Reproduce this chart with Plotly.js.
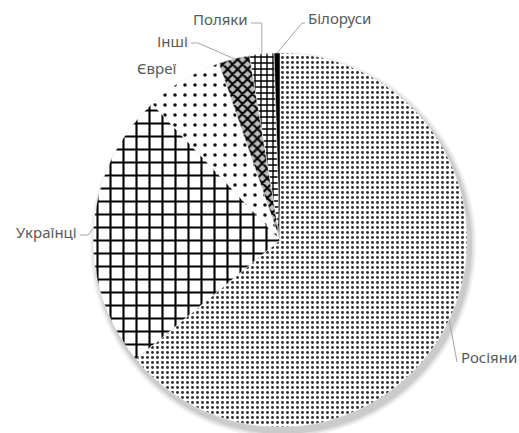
<!DOCTYPE html>
<html>
<head>
<meta charset="utf-8">
<script src="https://cdn.plot.ly/plotly-3.0.1.min.js"></script>
<style>html,body{margin:0;padding:0;background:#fff;}#chart{width:519px;height:433px;}</style>
</head>
<body>
<div id="chart"></div>
<script>
// ---- data ----
const categories = ["Росіяни", "Українці", "Євреї", "Інші", "Поляки", "Білоруси"];
const shares = [64.0, 24.0, 6.7, 2.7, 2.1, 0.5];

// ---- styling ----
const patternShapes = [".", "+", ".", "x", "+", ""];
const patternSizes = [5, 13, 10, 7, 6, 6];
const patternSolidity = [0.28, 0.3, 0.1, 0.5, 0.4, 0.3];
const patternFg = ["#333333", "#000000", "#111111", "#000000", "#000000", "#000000"];
const patternBg = ["#ffffff", "#ffffff", "#ffffff", "#bdbdbd", "#ffffff", "#000000"];
const sliceColors = ["#ffffff", "#ffffff", "#ffffff", "#bdbdbd", "#ffffff", "#000000"];

const W = 519, H = 433;
const cx = 280, cy = 240, R = 187;
const px = x => x / W;
const py = y => 1 - y / H;

// label placement (layout): text anchor, and leader elbow points (px)
const labelPos = {
  "Росіяни": {x: 459, y: 357, anchor: "left", line: [[457, 362]]},
  "Українці": {x: 79, y: 232, anchor: "right", line: [[80, 235], [88, 235]]},
  "Євреї": {x: 156, y: 68, anchor: "center", line: null},
  "Інші": {x: 190, y: 41, anchor: "right", line: [[191, 43], [198, 43]]},
  "Поляки": {x: 250, y: 19, anchor: "right", line: [[251, 23], "edgex"]},
  "Білоруси": {x: 306, y: 18, anchor: "left", line: [[305, 23], [302, 23]]}
};

const total = shares.reduce((a, b) => a + b, 0);
let cum = 0;
const annotations = [];
const shapes = [];

// soft shadow
[[6, 0.05], [4, 0.07], [2, 0.09]].forEach(([g, op]) => {
  shapes.push({
    type: "circle", xref: "paper", yref: "paper", layer: "below",
    x0: px(cx - R - g + 3), x1: px(cx + R + g + 3),
    y0: py(cy + R + g + 5), y1: py(cy - R - g + 5),
    fillcolor: "rgba(0,0,0," + op + ")", line: {width: 0}
  });
});

categories.forEach((c, i) => {
  const a0 = cum / total * 360;
  cum += shares[i];
  const a1 = cum / total * 360;
  const am = (a0 + a1) / 2 * Math.PI / 180;
  const ex = cx + R * Math.sin(am);
  const ey = cy - R * Math.cos(am);
  const lp = labelPos[c];
  annotations.push({
    text: c, xref: "paper", yref: "paper", x: px(lp.x), y: py(lp.y),
    xanchor: lp.anchor, yanchor: "middle", showarrow: false,
    font: {family: "Noto Sans, sans-serif", size: 15, color: "#595959"}
  });
  if (lp.line) {
    const pts = lp.line.map(p => p === "edgex" ? [ex, lp.line[0][1]] : p);
    pts.push([ex, ey]);
    let d = "M" + pts.map(p => px(p[0]) + "," + py(p[1])).join(" L");
    shapes.push({
      type: "path", xref: "paper", yref: "paper", path: d,
      line: {color: "#a6a6a6", width: 1}
    });
  }
});

const trace = {
  type: "pie",
  labels: categories,
  values: shares,
  sort: false,
  direction: "clockwise",
  rotation: 0,
  textinfo: "none",
  hoverinfo: "label+value",
  marker: {
    colors: sliceColors,
    line: {color: "#f0f0f0", width: 0.5},
    pattern: {
      shape: patternShapes,
      size: patternSizes,
      solidity: patternSolidity,
      fgcolor: patternFg,
      bgcolor: patternBg,
      fillmode: "replace"
    }
  },
  domain: {x: [px(cx - R), px(cx + R)], y: [py(cy + R), py(cy - R)]},
  showlegend: false
};

Plotly.newPlot("chart", [trace], {
  width: W, height: H,
  margin: {l: 0, r: 0, t: 0, b: 0},
  paper_bgcolor: "#ffffff",
  showlegend: false,
  annotations: annotations,
  shapes: shapes
}, {displayModeBar: false, staticPlot: true});
</script>
</body>
</html>
